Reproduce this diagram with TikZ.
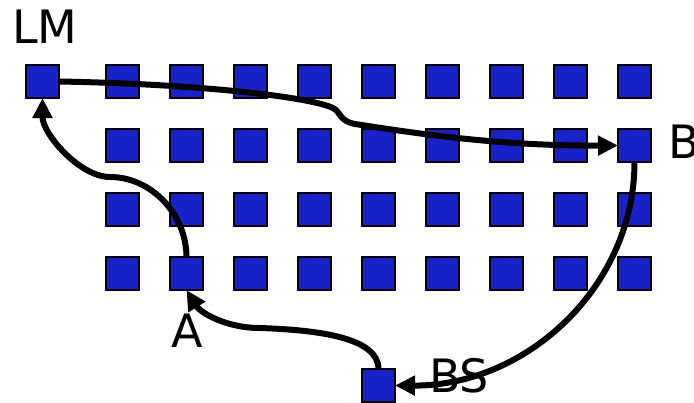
\documentclass[tikz,border=0pt]{standalone}
\usepackage{fontspec}
\setmainfont{DejaVu Sans}
\usetikzlibrary{arrows.meta}
\definecolor{sqblue}{RGB}{24,34,200}
\tikzset{
  sq/.style={draw=black,fill=sqblue,line width=1.5pt,minimum size=33pt,inner sep=0pt,outer sep=0pt},
  lbl/.style={anchor=base west,inner sep=0pt,font=\fontsize{46}{46}\selectfont},
  conn/.style={line width=6pt,-{Triangle[length=20pt,width=19pt]}}
}
\begin{document}
\begin{tikzpicture}[x=1pt,y=-1pt]
\useasboundingbox (0,0) rectangle (694,402);
% row 1
\node[sq] (r1c0) at (42.5,81.5) {};
\foreach \c/\x in {1/122.5,2/186.5,3/250.5,4/314.5,5/378.5,6/442.5,7/506.5,8/570.5,9/634.5}{
  \node[sq] (r1c\c) at (\x,81.5) {};
  \node[sq] (r2c\c) at (\x,145.5) {};
  \node[sq] (r3c\c) at (\x,209.5) {};
  \node[sq] (r4c\c) at (\x,273.5) {};
}
\node[sq] (bs) at (378.5,385.5) {};
% labels
\node[lbl] (tLM) at (12,43) {LM};
\node[lbl] (tB) at (668,158) {B};
\node[lbl] (tA) at (171,347) {A};
\node[lbl] (tBS) at (429,392) {BS};
% connectors
\draw[conn] (r1c0.east) .. controls (200,84) and (310,97) .. (333,108)
  .. controls (341,112) and (339,121) .. (355,124)
  .. controls (420,134) and (500,146) .. (r2c9.west);
\draw[conn] (r2c9.south) .. controls (634.5,286) and (527,386) .. (bs.east);
\draw[conn] (bs.north) .. controls (378.5,338) and (320,330) .. (260,328)
  .. controls (225,328) and (200,312) .. (r4c2.south);
\draw[conn] (r4c2.north) .. controls (186.5,215) and (152,177) .. (110,177)
  .. controls (80,177) and (42.5,134) .. (r1c0.south);
\end{tikzpicture}
\end{document}
